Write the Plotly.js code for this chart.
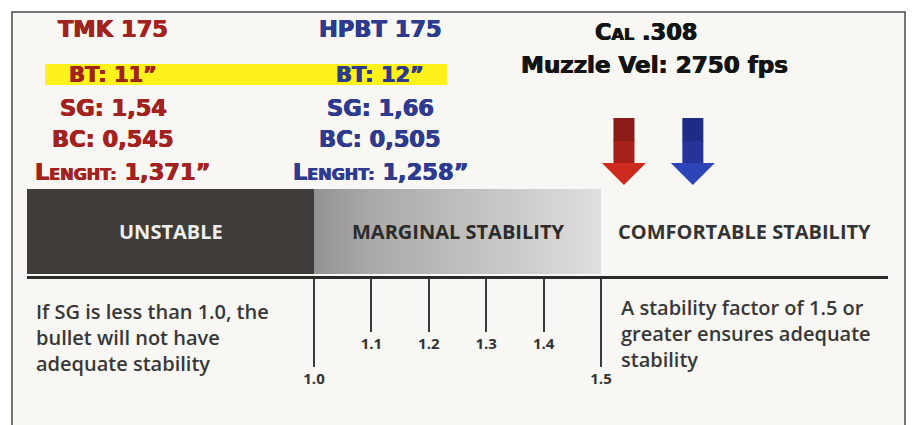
<!DOCTYPE html>
<html>
<head>
<meta charset="utf-8">
<script src="https://cdn.plot.ly/plotly-3.0.1.min.js"></script>
<style>
  html, body { margin: 0; padding: 0; background: #ffffff; }
  #chart { width: 913px; height: 425px; }
</style>
</head>
<body>
<div id="chart"></div>
<script>
// ---- data ----
const bulletNames = ['TMK 175', 'HPBT 175'];
const barrelTwist = ['11”', '12”'];
const stabilityFactor = [1.54, 1.66];
const ballisticCoef = [0.545, 0.505];
const bulletLength = ['1,371”', '1,258”'];
const bulletColors = ['#a1221e', '#2d3a8e'];
const caliber = '.308';
const muzzleVelocity = 2750;

const zoneStart = [0.5, 1.0, 1.5];
const zoneEnd = [1.0, 1.5, 2.0];
const zoneLabels = ['UNSTABLE', 'MARGINAL STABILITY', 'COMFORTABLE STABILITY'];
const zoneLabelColors = ['#eeeeee', '#2b2b2b', '#333333'];

const majorTicks = [1.0, 1.5];
const minorTicks = [1.1, 1.2, 1.3, 1.4];

const noteLeft = ['If SG is less than 1.0, the', 'bullet will not have', 'adequate stability'];
const noteRight = ['A stability factor of 1.5 or', 'greater ensures adequate', 'stability'];

// ---- layout helpers ----
const W = 913, H = 425;
const px = x => x / W;
const comma = (v, d) => v.toFixed(d).replace('.', ',');
const bandTop = 189, bandBottom = 274;

const traces = [];
// unstable band (solid dark)
traces.push({
  type: 'scatter', mode: 'lines', line: {width: 0},
  x: [zoneStart[0], zoneEnd[0], zoneEnd[0], zoneStart[0], zoneStart[0]],
  y: [bandTop, bandTop, bandBottom, bandBottom, bandTop],
  fill: 'toself', fillcolor: '#3f3c3a', hoverinfo: 'skip', showlegend: false
});
// marginal band (gradient)
traces.push({
  type: 'scatter', mode: 'lines', line: {width: 0},
  x: [zoneStart[1], zoneEnd[1], zoneEnd[1], zoneStart[1], zoneStart[1]],
  y: [bandTop, bandTop, bandBottom, bandBottom, bandTop],
  fill: 'toself',
  fillgradient: {type: 'horizontal', start: zoneStart[1], stop: zoneEnd[1],
                 colorscale: [[0, '#939391'], [0.2, '#aaa9a7'], [1, '#e0dfdd']]},
  hoverinfo: 'skip', showlegend: false
});

const shapes = [];
// frame
shapes.push({type: 'rect', xref: 'paper', yref: 'paper', x0: px(12), x1: px(905), y0: -0.05, y1: 1 - 12 / H,
             line: {color: '#4a4a4a', width: 1.5}, fillcolor: '#f8f7f3', layer: 'below'});
// arrows at SG values
const arrowCols = [['#8c1a17', '#a52019', '#cc2a1c'], ['#1f2c86', '#26349a', '#2c45b8']];
stabilityFactor.forEach((sg, i) => {
  const c = arrowCols[i];
  shapes.push({type: 'path', xref: 'x', yref: 'y', xsizemode: 'pixel', xanchor: sg,
    path: 'M -10.5,118 L 10.5,118 L 10.5,142 L -10.5,142 Z', fillcolor: c[0], line: {width: 0}});
  shapes.push({type: 'path', xref: 'x', yref: 'y', xsizemode: 'pixel', xanchor: sg,
    path: 'M -10.5,141 L 10.5,141 L 10.5,164 L -10.5,164 Z', fillcolor: c[1], line: {width: 0}});
  shapes.push({type: 'path', xref: 'x', yref: 'y', xsizemode: 'pixel', xanchor: sg,
    path: 'M -22,163 L 22,163 L 0,185 Z', fillcolor: c[2], line: {width: 0}});
});
// yellow highlight behind barrel twist
shapes.push({type: 'rect', xref: 'paper', yref: 'y', x0: px(45), x1: px(447), y0: 64, y1: 85,
             fillcolor: '#fff21a', line: {width: 0}, layer: 'below'});

const annotations = [];
const colX = [px(113), px(380)];
const hdr = (text, x, y, color, size) => annotations.push({
  text, x, y, xref: 'paper', yref: 'y', xanchor: 'center', yanchor: 'middle', showarrow: false,
  font: {family: 'DejaVu Sans', size: size, color: color, weight: 'bold',
         shadow: '0.5px 0 0 ' + color + ', -0.5px 0 0 ' + color}
});
bulletNames.forEach((name, i) => {
  const c = bulletColors[i];
  hdr(name, colX[i], 29, c, 22.5);
  hdr('BT: ' + barrelTwist[i], colX[i], 75, c, 21);
  hdr('SG: ' + comma(stabilityFactor[i], 2), colX[i], 108, c, 22.5);
  hdr('BC: ' + comma(ballisticCoef[i], 3), colX[i], 139, c, 22.5);
  hdr('L<span style="font-size:16px">ENGHT:</span> ' + bulletLength[i], colX[i] + (i === 0 ? px(9) : 0), 172, c, 22.5);
});
hdr('C<span style="font-size:16px">AL</span> ' + caliber, px(646), 32, '#141414', 22.5);
hdr('Muzzle Vel: ' + muzzleVelocity + ' fps', px(654), 65, '#141414', 23);

// zone labels (on data scale)
zoneLabels.forEach((lab, i) => annotations.push({
  text: lab, x: (zoneStart[i] + zoneEnd[i]) / 2, y: 231, xref: 'x', yref: 'y',
  xanchor: 'center', yanchor: 'middle', showarrow: false,
  font: {family: 'Open Sans', size: 20, color: zoneLabelColors[i], weight: 700}
}));

// notes
const noteFont = {family: 'Open Sans', size: 20, color: '#383838', weight: 600};
annotations.push({
  text: noteLeft.join('<br>'), x: px(34), y: 337, xref: 'paper', yref: 'y',
  xanchor: 'left', yanchor: 'middle', align: 'left', showarrow: false, font: noteFont
});
annotations.push({
  text: noteRight.join('<br>'), x: px(619), y: 333, xref: 'paper', yref: 'y',
  xanchor: 'left', yanchor: 'middle', align: 'left', showarrow: false, font: noteFont
});

const axisPos = 1 - 277 / H;
const tickFont = {family: 'Open Sans', size: 15, color: '#333333', weight: 700};
const layout = {
  width: W, height: H,
  margin: {l: 0, r: 0, t: 0, b: 0},
  paper_bgcolor: '#ffffff', plot_bgcolor: 'rgba(0,0,0,0)',
  showlegend: false,
  xaxis: {
    domain: [px(27), px(888)], range: [zoneStart[0], zoneEnd[2]],
    anchor: 'free', position: axisPos,
    showgrid: false, zeroline: false,
    showline: true, linecolor: '#2a2a2a', linewidth: 3,
    ticks: 'outside', tickmode: 'array', tickvals: majorTicks,
    ticktext: majorTicks.map(v => v.toFixed(1)),
    ticklen: 88, tickwidth: 2, tickcolor: '#3a3a3a',
    tickfont: tickFont, ticklabelstandoff: -1, fixedrange: true
  },
  xaxis2: {
    domain: [px(27), px(888)], range: [zoneStart[0], zoneEnd[2]],
    overlaying: 'x', anchor: 'free', position: axisPos,
    showgrid: false, zeroline: false, showline: false,
    ticks: 'outside', tickmode: 'array', tickvals: minorTicks,
    ticktext: minorTicks.map(v => v.toFixed(1)),
    ticklen: 54, tickwidth: 2, tickcolor: '#3a3a3a',
    tickfont: tickFont, ticklabelstandoff: -1, fixedrange: true
  },
  yaxis: {domain: [0, 1], range: [H, 0], visible: false, fixedrange: true},
  shapes, annotations
};
// empty trace to activate xaxis2
traces.push({type: 'scatter', x: [], y: [], xaxis: 'x2', yaxis: 'y', hoverinfo: 'skip', showlegend: false});

Plotly.newPlot('chart', traces, layout, {displayModeBar: false, staticPlot: true});
</script>
</body>
</html>
